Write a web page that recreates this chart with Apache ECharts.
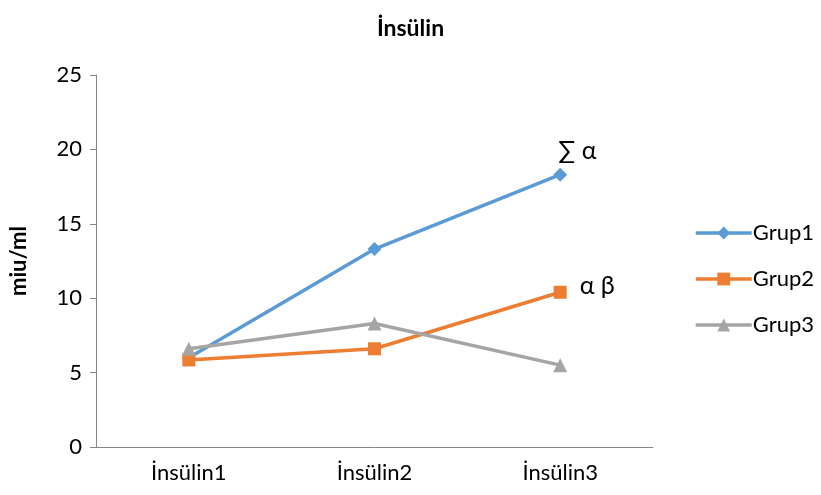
<!DOCTYPE html>
<html><head><meta charset="utf-8">
<script src="https://cdn.jsdelivr.net/npm/echarts@6/dist/echarts.min.js"></script>
<style>html,body{margin:0;padding:0;background:#fff}#c{width:821px;height:495px}</style>
</head><body><div id="c"></div>
<script>
const categories = ['İnsülin1', 'İnsülin2', 'İnsülin3'];
const grup1 = [6.0, 13.3, 18.3];
const grup2 = [5.85, 6.6, 10.4];
const grup3 = [6.6, 8.3, 5.5];
const seriesNames = ['Grup1', 'Grup2', 'Grup3'];
const annotations = ['∑ α', 'α β'];
const yTicks = {min: 0, max: 25, interval: 5};

const FONT = 'Lato, "Open Sans", sans-serif';
const chart = echarts.init(document.getElementById('c'));
function lastLabel(arr, text, offset) {
  return arr.map((v, i) => i === arr.length - 1 ? {
    value: v,
    label: {show: true, formatter: text, position: 'right', offset: offset,
      fontSize: 25, color: '#000', fontFamily: FONT}
  } : v);
}
chart.setOption({
  animation: false,
  title: {text: 'İnsülin', left: 'center', top: 12,
    textStyle: {fontSize: 23, fontWeight: 'bold', color: '#000', fontFamily: FONT}},
  grid: {left: 95, top: 75, right: 168, bottom: 48},
  legend: {
    orient: 'vertical', left: 689, top: 217, itemWidth: 56, itemHeight: 16, itemGap: 24,
    lineStyle: {width: 3.5},
    textStyle: {fontSize: 22, color: '#000', fontFamily: FONT, padding: [0, 0, 0, -4]},
    data: seriesNames
  },
  xAxis: {
    type: 'category', data: categories, boundaryGap: true,
    axisLine: {lineStyle: {color: '#868686', width: 1}},
    axisTick: {show: false},
    axisLabel: {fontSize: 22, color: '#000', fontFamily: FONT, margin: 15}
  },
  yAxis: {
    type: 'value', min: yTicks.min, max: yTicks.max, interval: yTicks.interval,
    name: 'miu/ml', nameLocation: 'middle', nameGap: 66,
    nameTextStyle: {fontSize: 22, fontWeight: 'bold', color: '#000', fontFamily: FONT},
    axisLine: {show: true, lineStyle: {color: '#868686', width: 1}},
    axisTick: {show: true, length: 6, lineStyle: {color: '#868686'}},
    splitLine: {show: false},
    axisLabel: {fontSize: 22, color: '#000', fontFamily: FONT, margin: 14}
  },
  series: [
    {name: seriesNames[0], type: 'line', data: lastLabel(grup1, annotations[0], [-14, -24]),
      symbol: 'diamond', symbolSize: 14, lineStyle: {width: 3.5, color: '#5B9BD5'},
      itemStyle: {color: '#5B9BD5'}},
    {name: seriesNames[1], type: 'line', data: lastLabel(grup2, annotations[1], [8, -6]),
      symbol: 'rect', symbolSize: 13, lineStyle: {width: 3.5, color: '#ED7D31'},
      itemStyle: {color: '#ED7D31'}},
    {name: seriesNames[2], type: 'line', data: grup3,
      symbol: 'triangle', symbolSize: 14, lineStyle: {width: 3.5, color: '#A5A5A5'},
      itemStyle: {color: '#A5A5A5'}}
  ]
});
</script></body></html>
